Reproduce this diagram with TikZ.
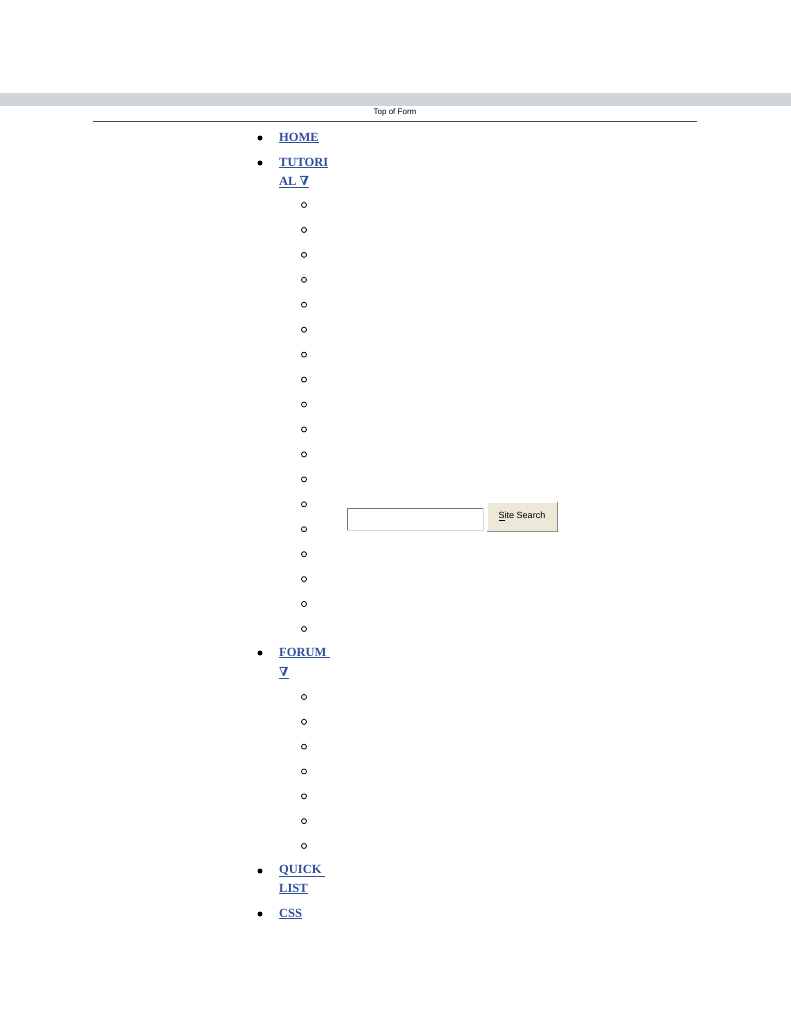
\documentclass[tikz,border=0pt]{standalone}
\usepackage{fontspec}
\setmainfont{Liberation Serif}
\newfontfamily\uisans{Liberation Sans}
\newfontfamily\symfont{DejaVu Serif}
\definecolor{linkblue}{HTML}{2F4E9C}
\definecolor{bandgray}{HTML}{D0D5D8}
\definecolor{btnface}{HTML}{ECE9D8}
\begin{document}
\begin{tikzpicture}[x=1pt,y=-1pt,
  lnk/.style={anchor=west,inner sep=0pt,text=linkblue,font=\bfseries\fontsize{12.5}{14}\selectfont},
  dotb/.style={circle,fill=black,inner sep=0pt,minimum size=5pt},
  ringb/.style={circle,draw=black,line width=0.8pt,inner sep=0pt,minimum size=5pt}]
\useasboundingbox (0,0) rectangle (791,1023);
\fill[bandgray] (0,93) rectangle (791,106);
\node[font=\uisans\fontsize{8}{9}\selectfont,inner sep=0pt] (tof) at (395,112) {Top of Form};
\coordinate (l1) at (93,121); \coordinate (l2) at (697,121);
\draw[line width=1pt,black!70] (l1) -- (l2);
% main items
\foreach \n/\y in {b1/138,b2/163,b3/653,b4/871,b5/914}{\node[dotb] (\n) at (260,\y) {};}
\node[lnk] (home) at (279,138) {\underline{HOME}};
\node[lnk] (tut1) at (279,163) {\underline{TUTORI}};
\node[lnk] (tut2) at (279,182) {\underline{AL {\symfont\char"2207}}};
\node[lnk] (for1) at (279,653) {\underline{FORUM\ }};
\node[lnk] (for2) at (279,673) {\underline{{\symfont\char"2207}}};
\node[lnk] (q1) at (279,871) {\underline{QUICK\ }};
\node[lnk] (q2) at (279,889) {\underline{LIST}};
\node[lnk] (css) at (279,914) {\underline{CSS}};
\foreach \i in {0,...,17}{\node[ringb] (s\i) at (304,{205+\i*24.94}) {};}
\foreach \i in {0,...,6}{\node[ringb] (f\i) at (304,{697+\i*24.83}) {};}
% search field
\fill[white] (347,508) rectangle (483,530);
\draw[black!55,line width=1pt] (347,530) -- (347,508) -- (483,508);
\draw[black!15,line width=1pt] (483,508) -- (483,530) -- (347,530);
\node[draw=none] (field) at (415,519) {};
\fill[btnface] (487,502) rectangle (557,531);
\draw[white,line width=1pt] (487,531) -- (487,502) -- (557,502);
\draw[black!45,line width=1pt] (557,502) -- (557,531) -- (487,531);
\node[font=\uisans\fontsize{9}{10}\selectfont,inner sep=0pt] (btn) at (522,516) {\underline{S}ite Search};
\end{tikzpicture}
\end{document}
